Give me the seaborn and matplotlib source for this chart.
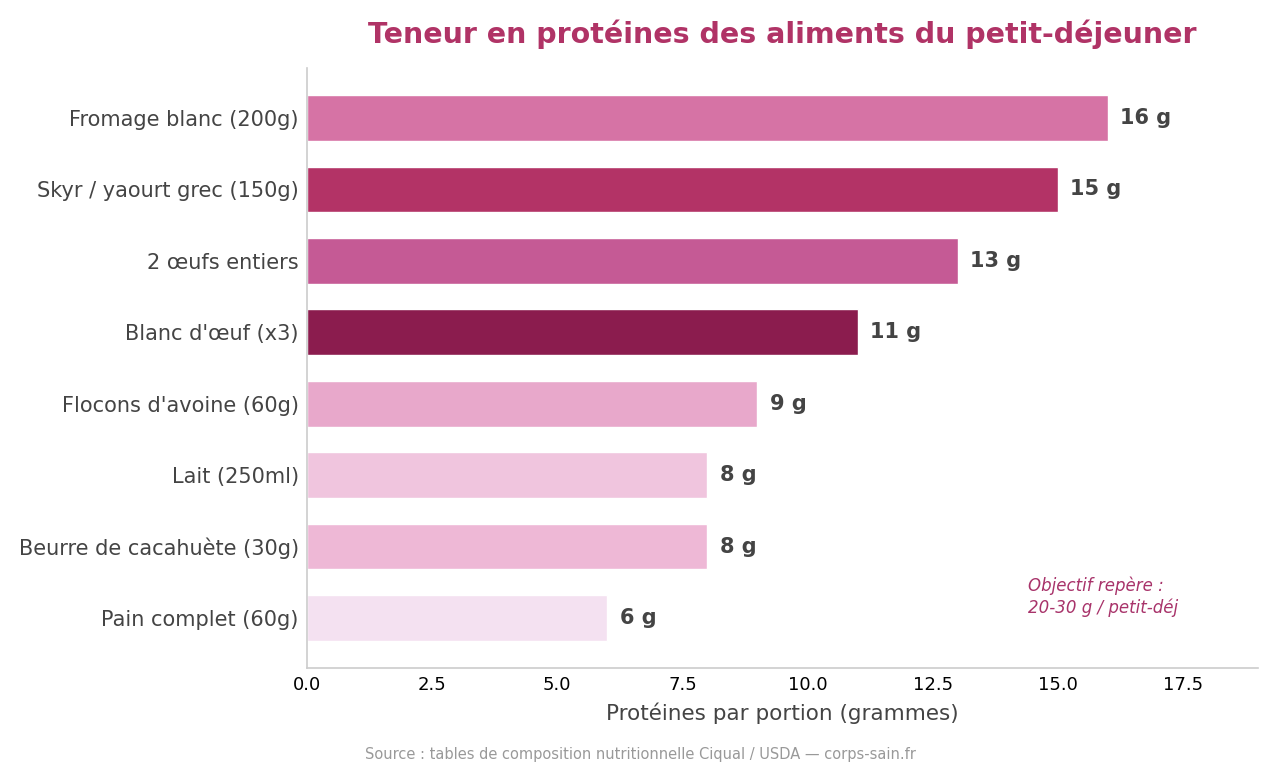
import matplotlib
matplotlib.use("Agg")
import matplotlib.pyplot as plt
import seaborn as sns
import pandas as pd

foods = ["Fromage blanc (200g)", "Skyr / yaourt grec (150g)", "2 œufs entiers",
         "Blanc d'œuf (x3)", "Flocons d'avoine (60g)", "Lait (250ml)",
         "Beurre de cacahuète (30g)", "Pain complet (60g)"]
proteins = [16, 15, 13, 11, 9, 8, 8, 6]
colors = ["#d673a5", "#b33366", "#c55a95", "#8b1c4e", "#e8a8cb", "#f0c5de", "#eeb8d6", "#f4e1f1"]

title = "Teneur en protéines des aliments du petit-déjeuner"
xlabel = "Protéines par portion (grammes)"
note = "Objectif repère :\n20-30 g / petit-déj"
source = "Source : tables de composition nutritionnelle Ciqual / USDA — corps-sain.fr"
xticks = [0, 2.5, 5, 7.5, 10, 12.5, 15, 17.5]

sns.set_theme(style="white")
plt.rcParams['font.family'] = ['DejaVu Sans']

df = pd.DataFrame({"food": foods, "protein": proteins})

fig = plt.figure(figsize=(12.8, 7.68), dpi=100)
ax = fig.add_axes([307/1280, 1 - 668/768, (1258-307)/1280, (668-68)/768])

sns.barplot(data=df, y="food", x="protein", hue="food", palette=colors,
            legend=False, ax=ax, width=0.64, orient="h", saturation=1)

for i, v in enumerate(proteins):
    ax.annotate(f"{v} g", xy=(v, i), xytext=(9, 0), textcoords="offset points",
                va="center", ha="left", fontsize=15, fontweight="bold", color="#444444")

ax.set_xlim(0, 19)
ax.set_ylim(len(foods) - 0.5 + 0.2, -0.5 - 0.2)
ax.set_xticks(xticks)
ax.set_xticklabels([f"{t:.1f}" for t in xticks])
ax.tick_params(axis="x", labelsize=13, colors="black", length=0, pad=6)
ax.tick_params(axis="y", labelsize=15, labelcolor="#444444", length=0, pad=6)
ax.set_ylabel("")
ax.set_xlabel(xlabel, fontsize=15.5, color="#444444", labelpad=6)
ax.set_title(title, fontsize=20.5, fontweight="bold", color="#b03366", pad=18)

for s in ["top", "right"]:
    ax.spines[s].set_visible(False)
for s in ["left", "bottom"]:
    ax.spines[s].set_color("#cccccc")
    ax.spines[s].set_linewidth(1.2)

ax.text(14.4, 6.7, note, fontsize=12, style="italic", color="#a8336a", ha="left", va="center")
fig.text(0.5, 0.018, source, fontsize=10.5, color="#999999", ha="center", va="center")

fig.savefig("out.png", dpi=100)
